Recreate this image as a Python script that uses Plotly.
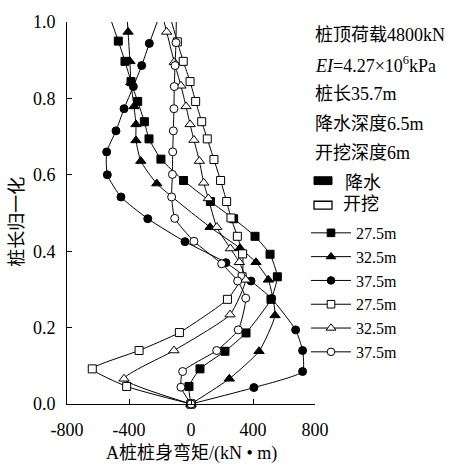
import plotly.graph_objects as go

# Bending moment along pile A (kN·m) versus normalised pile length
# 降水 (dewatering) series: filled markers; 开挖 (excavation) series: open markers

dw_275_y = [1.0, 0.950, 0.897, 0.844, 0.792, 0.739, 0.694, 0.641, 0.585, 0.530,
            0.485, 0.439, 0.392, 0.333, 0.274, 0.186, 0.138, 0.092, 0.046, 0.0]
dw_275_m = [-512, -469, -426, -387, -344, -301, -271, -194, -48, 125,
            275, 413, 510, 557, 516, 355, 219, 58, -13, 0]

dw_325_y = [1.0, 0.974, 0.897, 0.842, 0.779, 0.732, 0.690, 0.636, 0.577, 0.463,
            0.408, 0.371, 0.325, 0.232, 0.138, 0.066, 0.0]
dw_325_m = [-410, -406, -394, -388, -368, -355, -355, -324, -221, 123,
            316, 419, 499, 542, 439, 247, 0]

dw_375_y = [1.0, 0.944, 0.886, 0.831, 0.773, 0.715, 0.660, 0.600, 0.542, 0.485,
            0.425, 0.370, 0.322, 0.276, 0.194, 0.140, 0.085, 0.043, 0.0]
dw_375_m = [-218, -269, -318, -372, -432, -484, -544, -540, -452, -279,
            -39, 225, 387, 520, 675, 720, 720, 406, 0]

ex_275_y = [1.0, 0.948, 0.897, 0.844, 0.792, 0.739, 0.694, 0.640, 0.585, 0.530,
            0.487, 0.439, 0.393, 0.333, 0.274, 0.187, 0.140, 0.092, 0.046, 0.0]
ex_275_m = [-125, -88, -50, -6, 30, 69, 105, 148, 191, 230,
            258, 299, 333, 330, 235, -75, -335, -637, -415, 0]

ex_325_y = [1.0, 0.974, 0.895, 0.833, 0.779, 0.732, 0.691, 0.636, 0.579, 0.538,
            0.463, 0.407, 0.371, 0.325, 0.234, 0.140, 0.066, 0.0]
ex_325_m = [-173, -157, -108, -65, -32, -6, 19, 54, 82, 112,
            166, 254, 312, 353, 252, -110, -432, 0]

ex_375_y = [1.0, 0.946, 0.886, 0.831, 0.773, 0.715, 0.660, 0.601, 0.542, 0.486,
            0.426, 0.367, 0.322, 0.277, 0.194, 0.140, 0.085, 0.044, 0.0]
ex_375_m = [-95, -97, -103, -108, -110, -114, -118, -120, -125, -105,
            19, 198, 301, 353, 305, 166, -54, -65, 0]

series_names = ["27.5m", "32.5m", "37.5m", "27.5m", "32.5m", "37.5m"]
x_ticks = [-800, -400, 0, 400, 800]
x_tick_text = ["-800", "-400", "0", "400", "800"]
y_ticks = [0.0, 0.2, 0.4, 0.6, 0.8, 1.0]
y_tick_text = ["0.0", "0.2", "0.4", "0.6", "0.8", "1.0"]
note_lines = ["桩顶荷载4800kN", "<i>EI</i>=4.27×10<sup>6</sup>kPa", "桩长35.7m",
              "降水深度6.5m", "开挖深度6m"]

FONT = "Liberation Serif, Noto Sans CJK SC, serif"
W, H = 459, 464
L, R, T, B = 67, 144, 14, 60
PW, PH = W - L - R, H - T - B


def px(xp):
    return (xp - L) / PW


def py(yp):
    return (H - B - yp) / PH


fig = go.Figure()

styles = [
    ("square", "black", 8),
    ("triangle-up", "black", 9),
    ("circle", "black", 8),
    ("square", "white", 8),
    ("triangle-up", "white", 9),
    ("circle", "white", 8),
]
data = [(dw_275_m, dw_275_y), (dw_325_m, dw_325_y), (dw_375_m, dw_375_y),
        (ex_275_m, ex_275_y), (ex_325_m, ex_325_y), (ex_375_m, ex_375_y)]

for (m, y), (sym, fill, size), name in zip(data, styles, series_names):
    # no marker at the pile head (y = 1.0), the curve just runs to the top edge
    sizes = [0 if v >= 1.0 else size for v in y]
    fig.add_trace(go.Scatter(
        x=m, y=y, mode="lines+markers", name=name,
        line=dict(color="black", width=1, shape="spline", smoothing=0.5),
        marker=dict(symbol=sym, size=sizes, color=fill, opacity=1,
                    line=dict(color="black", width=1)),
        cliponaxis=False,
    ))

fig.update_layout(
    width=W, height=H,
    margin=dict(l=L, r=R, t=T, b=B),
    paper_bgcolor="white", plot_bgcolor="white",
    font=dict(family=FONT, size=18, color="black"),
    showlegend=True,
    legend=dict(x=px(306), y=py(212), xanchor="left", yanchor="top",
                bgcolor="rgba(0,0,0,0)", borderwidth=0, tracegroupgap=0,
                font=dict(family=FONT, size=16), itemwidth=40),
    xaxis=dict(range=[-800, 800], tickvals=x_ticks, ticktext=x_tick_text,
               ticks="inside", ticklen=5, tickcolor="black", showline=True,
               linecolor="black", linewidth=1, showgrid=False, zeroline=False,
               tickfont=dict(size=18), ticklabelstandoff=9),
    yaxis=dict(range=[0, 1.0], tickvals=y_ticks, ticktext=y_tick_text,
               ticks="inside", ticklen=5, tickcolor="black", showline=True,
               linecolor="black", linewidth=1, showgrid=False, zeroline=False,
               tickfont=dict(size=18), ticklabelstandoff=7),
)

annotations = []
for text, yc in zip(note_lines, [27, 57, 88, 118, 148]):
    annotations.append(dict(text=text, x=px(313), y=py(yc), xref="paper", yref="paper",
                            xanchor="left", yanchor="middle", showarrow=False,
                            font=dict(size=18)))
annotations.append(dict(text="降水", x=px(343), y=py(178), xref="paper", yref="paper",
                        xanchor="left", yanchor="middle", showarrow=False))
annotations.append(dict(text="开挖", x=px(341), y=py(200), xref="paper", yref="paper",
                        xanchor="left", yanchor="middle", showarrow=False))
annotations.append(dict(text="A桩桩身弯矩/(kN • m)", x=0.5, y=py(455), xref="paper",
                        yref="paper", xanchor="center", yanchor="middle",
                        showarrow=False))
annotations.append(dict(text="桩长归一化", x=px(17), y=py(218), xref="paper",
                        yref="paper", xanchor="center", yanchor="middle",
                        textangle=-90, showarrow=False))
fig.update_layout(annotations=annotations)

fig.add_shape(type="rect", xref="paper", yref="paper",
              x0=px(314), x1=px(332), y0=py(180), y1=py(172),
              fillcolor="black", line=dict(color="black", width=1))
fig.add_shape(type="rect", xref="paper", yref="paper",
              x0=px(314), x1=px(332), y0=py(205), y1=py(197),
              fillcolor="white", line=dict(color="black", width=1.3))

fig.write_html("out.html")
